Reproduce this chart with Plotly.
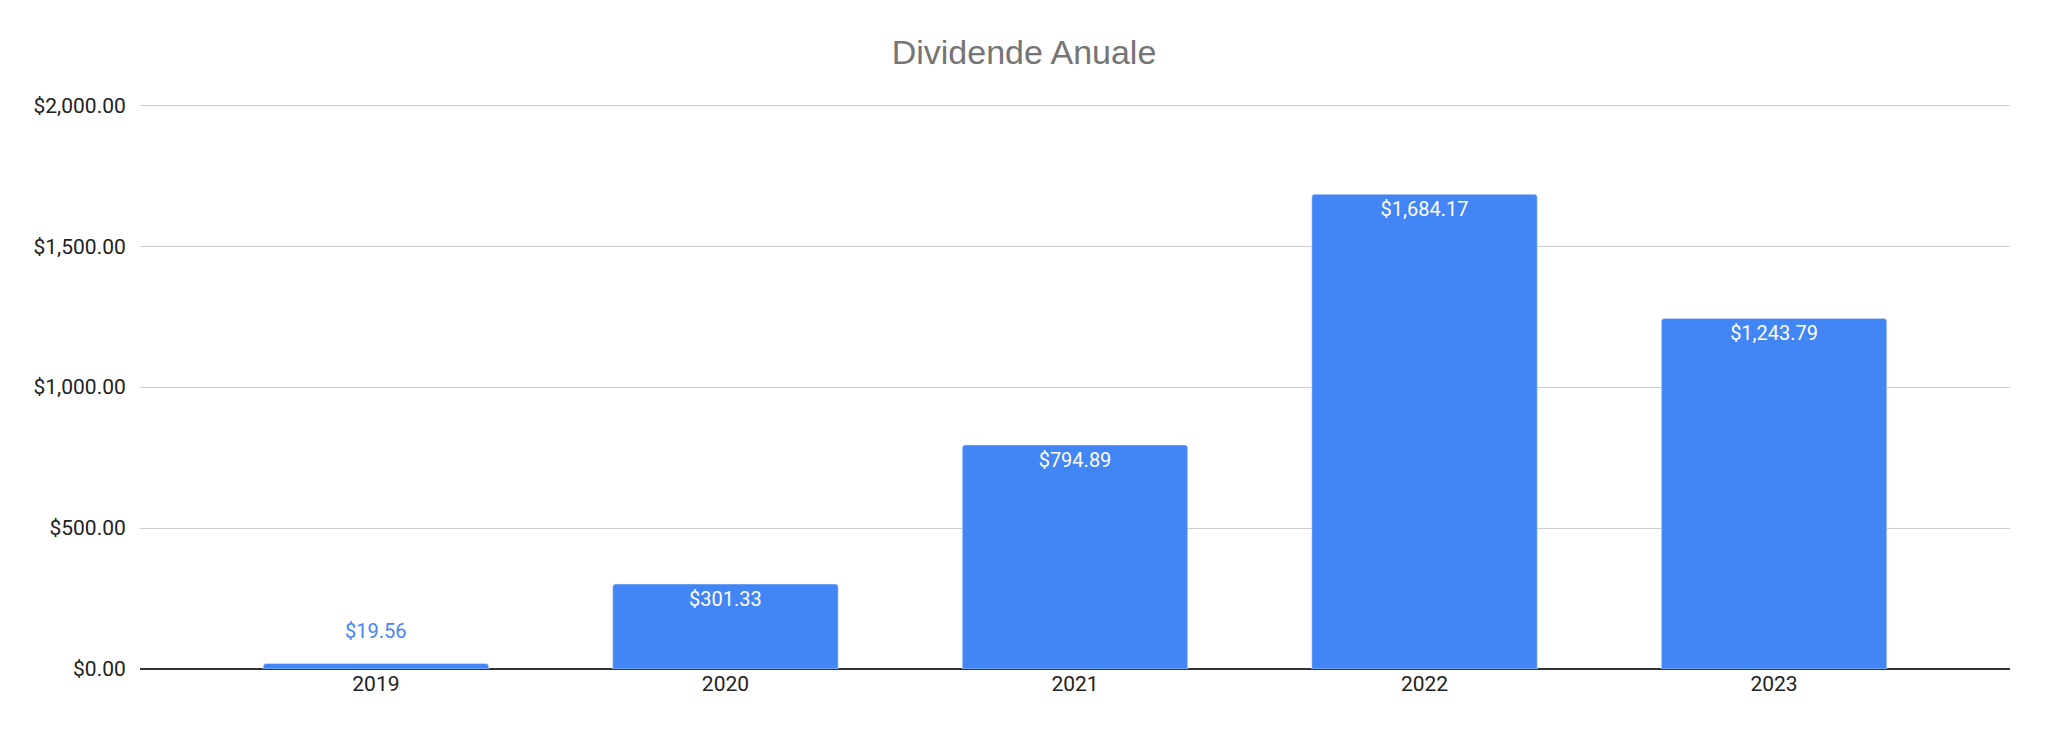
import plotly.graph_objects as go

years = ["2019", "2020", "2021", "2022", "2023"]
dividends = [19.56, 301.33, 794.89, 1684.17, 1243.79]
y_ticks = [0, 500, 1000, 1500, 2000]

BLUE = "#4285F4"

# small bars get their label above the bar in blue, the rest inside in white
inside = [v > 100 for v in dividends]
labels = ["${:,.2f}".format(v) if ok else "" for v, ok in zip(dividends, inside)]

fig = go.Figure([go.Bar(x=years, y=dividends,
                        text=labels,
                        textposition="inside",
                        insidetextanchor="end",
                        textfont=dict(family="Roboto", size=20, color="white"),
                        marker=dict(color=BLUE, cornerradius=3),
                        width=0.645,
                        hoverinfo="x+y")])

for i, (v, ok) in enumerate(zip(dividends, inside)):
    if not ok:
        fig.add_annotation(x=i, y=v, xref="x", yref="y",
                           text="${:,.2f}".format(v),
                           showarrow=False, yanchor="bottom", yshift=18,
                           font=dict(family="Roboto", size=20, color=BLUE))

fig.update_layout(width=2048, height=735,
                  plot_bgcolor="white",
                  paper_bgcolor="white",
                  margin=dict(l=140, r=38, t=103, b=66),
                  showlegend=False,
                  title=dict(text="Dividende Anuale", x=0.5, xanchor="center",
                             y=1 - 52 / 735, yanchor="middle",
                             font=dict(family="Liberation Sans, Arial", size=34, color="#757575")),
                  font=dict(family="Roboto", size=21, color="#222222"))
fig.update_xaxes(type="category", range=[-0.675, 4.675], showgrid=False, showline=False,
                 ticks="", ticklabelstandoff=0)
# a little headroom so the $2,000 gridline is not dropped at the edge
fig.update_yaxes(range=[0, 2008], tickvals=y_ticks, tickformat="$,.2f",
                 showgrid=True, gridcolor="#cccccc", gridwidth=1.3,
                 zeroline=True, zerolinecolor="#333333", zerolinewidth=1.6,
                 ticks="outside", ticklen=9, tickcolor="rgba(0,0,0,0)")

fig.write_html("out.html", config={"displayModeBar": False},
               post_script="document.body.style.margin = '0';")
